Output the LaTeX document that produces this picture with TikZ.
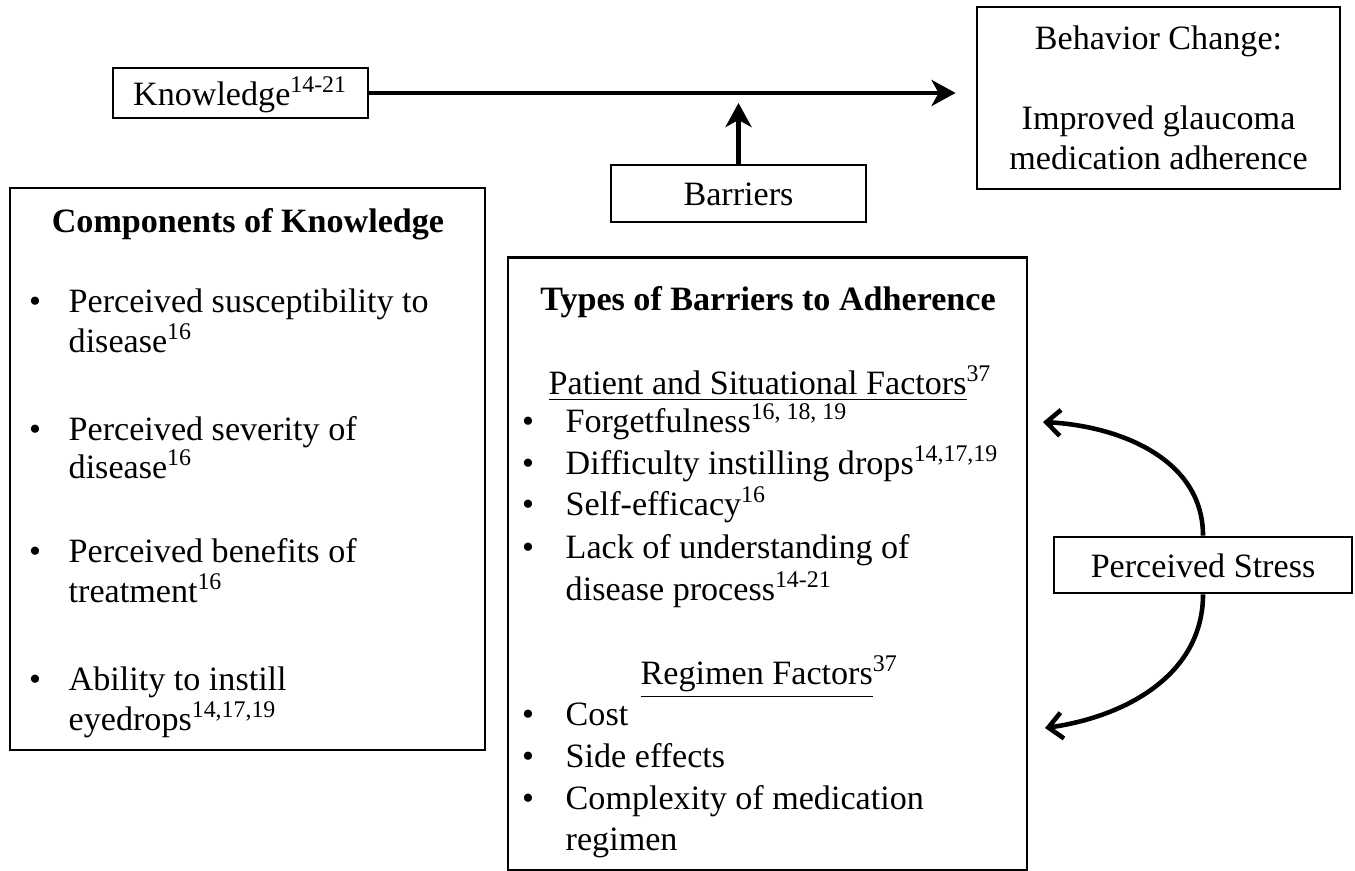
\documentclass[tikz,border=0pt]{standalone}
\usepackage{fontspec}
\setmainfont{Liberation Serif}
\usetikzlibrary{arrows.meta}

\tikzset{
  box/.style={draw, line width=0.75pt, inner sep=0pt, align=center},
  oneline/.style={text height=0.7em, text depth=0em},
  txt/.style={anchor=west, inner sep=0pt, oneline},
  dot/.style={inner sep=0pt, oneline},
  link/.style={line width=1.4pt, -{Stealth[length=0.24cm, width=0.26cm, inset=0.07cm]}},
  swing/.style={line width=1.3pt, -{Straight Barb[length=0.14cm, width=0.26cm]}},
}

\begin{document}
\begin{tikzpicture}[x=0.01cm, y=-0.01cm, font=\fontsize{9.7}{11.4}\selectfont]
  \useasboundingbox (0,0) rectangle (1355,871);
  % top row: knowledge -> behaviour change, barriers moderate
  \node[box, oneline, minimum width=2.55cm, minimum height=0.5cm] (know) at (240.5,93)
    {Knowledge\textsuperscript{14-21}};
  \node[box, minimum width=3.63cm, minimum height=1.82cm] (behav) at (1158.5,98)
    {Behavior Change:\\ \\ Improved glaucoma\\ medication adherence};
  \node[box, oneline, minimum width=2.55cm, minimum height=0.57cm] (barr) at (738.5,193.5)
    {Barriers};
  \coordinate (mod) at (738.5,103);
  \draw[link, shorten >=0.2cm] (know.east) -- (know.east -| behav.west);
  \draw[link] (barr.north) -- (mod);

  % components of knowledge
  \node[box, minimum width=4.75cm, minimum height=5.62cm] (comp) at (247.5,469) {};
  \node[dot] (comp-t) at (248,220) {\textbf{Components of Knowledge}};
  \foreach \y in {300,428,550,678}
    \node[dot] (comp-b\y) at (35,\y) {\textbullet};
  \foreach \y/\t in {300/{Perceived susceptibility to}, 340/{disease\textsuperscript{16}},
                     428/{Perceived severity of}, 466/{disease\textsuperscript{16}},
                     550/{Perceived benefits of}, 590/{treatment\textsuperscript{16}},
                     678/{Ability to instill}, 718/{eyedrops\textsuperscript{14,17,19}}}
    \node[txt] (comp-\y) at (68,\y) {\t};

  % types of barriers
  \node[box, minimum width=5.19cm, minimum height=6.12cm] (types) at (767.5,564) {};
  \node[dot] (types-t) at (768,298) {\textbf{Types of Barriers to Adherence}};
  \node[txt] (pat) at (548,382)
    {\underline{Patient and Situational Factors}\textsuperscript{37}};
  \node[txt] (reg) at (640,672) {\underline{Regimen Factors}\textsuperscript{37}};
  \foreach \y in {420,462,503,546,713,755,797}
    \node[dot] (types-b\y) at (528,\y) {\textbullet};
  \foreach \y/\t in {420/{Forgetfulness\textsuperscript{16, 18, 19}},
                     462/{Difficulty instilling drops\textsuperscript{14,17,19}},
                     503/{Self-efficacy\textsuperscript{16}},
                     546/{Lack of understanding of},
                     588/{disease process\textsuperscript{14-21}},
                     713/{Cost}, 755/{Side effects},
                     797/{Complexity of medication}, 838/{regimen}}
    \node[txt] (types-\y) at (565,\y) {\t};

  % perceived stress acts on both groups
  \node[box, oneline, minimum width=2.98cm, minimum height=0.56cm] (stress) at (1203,565)
    {Perceived Stress};
  \coordinate (up) at (1043,422);
  \coordinate (dn) at (1045,728);
  \draw[swing] (stress.north) to[out=90, in=-3] (up);
  \draw[swing] (stress.south) to[out=-90, in=8] (dn);
\end{tikzpicture}
\end{document}
